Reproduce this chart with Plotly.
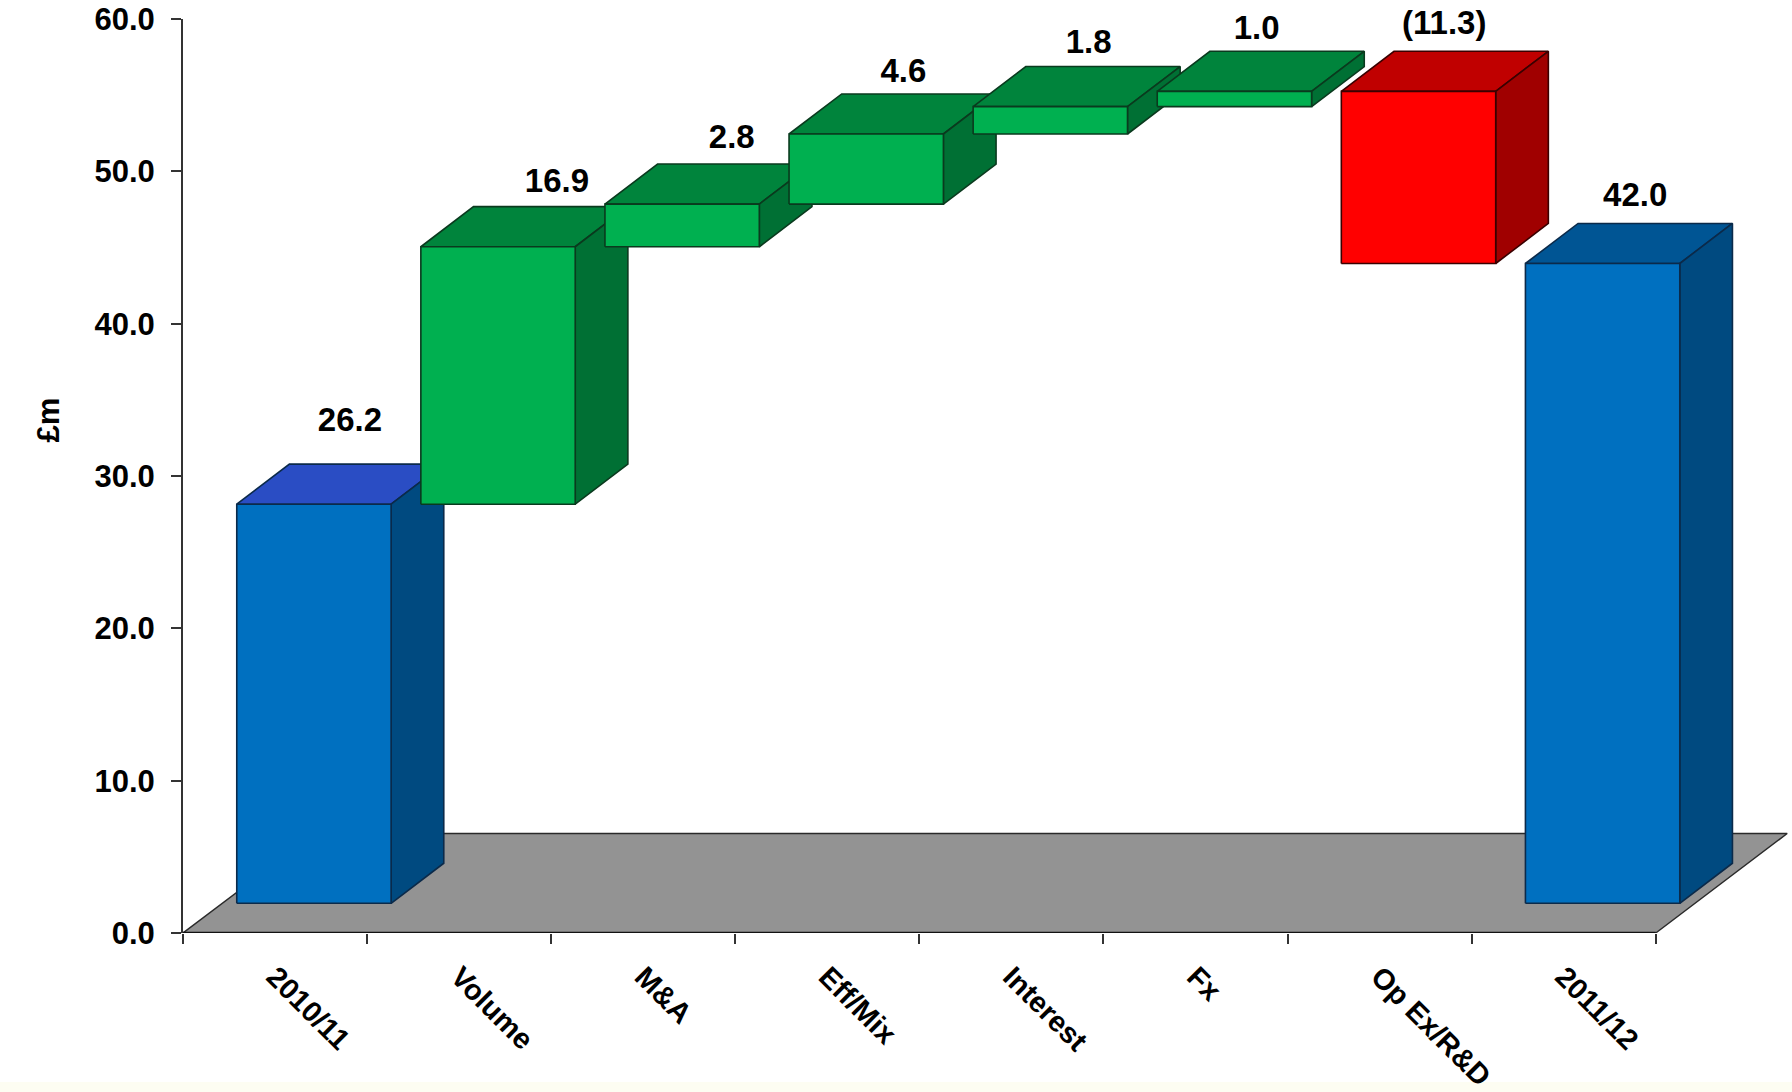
import plotly.graph_objects as go

# Bridge data, in GBP millions
categories = ["2010/11", "Volume", "M&A", "Eff/Mix", "Interest", "Fx", "Op Ex/R&D", "2011/12"]
values = [26.2, 16.9, 2.8, 4.6, 1.8, 1.0, -11.3, 42.0]
labels = ["26.2", "16.9", "2.8", "4.6", "1.8", "1.0", "(11.3)", "42.0"]
kinds = ["total", "step", "step", "step", "step", "step", "step", "total"]
y_ticks = [0, 10, 20, 30, 40, 50, 60]

# Extruded-bar geometry in axis units
FLOOR_LIFT = 1.95
BAR_OFFSET = 0.292
BAR_WIDTH = 0.8385
DEPTH_X = 0.286
DEPTH_Y = 2.63
FLOOR_DEPTH_X = 0.714
FLOOR_DEPTH_Y = 6.53

# Label placement relative to each bar's back-top edge
label_dx = [0.907, 1.031, 0.981, 0.913, 0.919, 0.832, 0.851, 0.888]
label_dy = [2.7, 1.5, 1.6, 1.35, 1.45, 1.35, 1.7, 1.7]

PALETTES = {
    "up": dict(front="#00B050", side="#007034", top="#00843C", edge="#0A3A1E"),
    "down": dict(front="#FF0000", side="#A00000", top="#C00000", edge="#3A0000"),
    "total": dict(front="#0070C0", side="#004A80", top="#005594", edge="#0B2A4A"),
}
FIRST_TOP = "#2A4DC4"
FONT = "Liberation Sans"

fig = go.Figure()


def polygon(xs, ys, fill, edge, width=1.6):
    fig.add_trace(go.Scatter(
        x=xs + xs[:1], y=ys + ys[:1], mode="lines", fill="toself", fillcolor=fill,
        line=dict(color=edge, width=width), hoverinfo="skip", showlegend=False,
    ))


# Grey floor and the heavy baseline along its front edge
polygon([0, 8, 8 + FLOOR_DEPTH_X, FLOOR_DEPTH_X], [0, 0, FLOOR_DEPTH_Y, FLOOR_DEPTH_Y],
        "#939393", "#2A2A2A", 1.4)
fig.add_trace(go.Scatter(x=[0, 8], y=[0, 0], mode="lines", cliponaxis=False,
                         line=dict(color="#111111", width=2.6),
                         hoverinfo="skip", showlegend=False))

# Walk the bridge, drawing top, side and front of each block
running = 0.0
label_x, label_y = [], []
for i, (value, kind) in enumerate(zip(values, kinds)):
    if kind == "total":
        low, high = 0.0, value
        running = value
        colors = PALETTES["total"]
    else:
        low, high = sorted((running, running + value))
        running += value
        colors = PALETTES["up" if value >= 0 else "down"]
    y0, y1 = low + FLOOR_LIFT, high + FLOOR_LIFT
    x0 = i + BAR_OFFSET
    x1 = x0 + BAR_WIDTH
    top_fill = FIRST_TOP if i == 0 else colors["top"]
    polygon([x0, x1, x1 + DEPTH_X, x0 + DEPTH_X], [y1, y1, y1 + DEPTH_Y, y1 + DEPTH_Y],
            top_fill, colors["edge"])
    polygon([x1, x1 + DEPTH_X, x1 + DEPTH_X, x1], [y0, y0 + DEPTH_Y, y1 + DEPTH_Y, y1],
            colors["side"], colors["edge"])
    polygon([x0, x1, x1, x0], [y0, y0, y1, y1], colors["front"], colors["edge"])
    label_x.append(i + label_dx[i])
    label_y.append(y1 + DEPTH_Y + label_dy[i])

fig.add_trace(go.Scatter(
    x=label_x, y=label_y, mode="text", text=labels, textposition="middle center",
    cliponaxis=False, textfont=dict(family=FONT, size=33, color="#000000", weight="bold"),
    hoverinfo="skip", showlegend=False,
))

fig.update_layout(
    width=1792, height=1092,
    margin=dict(l=183, r=0, t=19, b=159),
    paper_bgcolor="#FFFFFF", plot_bgcolor="#FFFFFF",
    showlegend=False,
    xaxis=dict(
        range=[0, 8.74], showgrid=False, zeroline=False, showline=False,
        tickmode="array", tickvals=[i + 0.5 for i in range(len(categories))],
        ticktext=categories, ticks="", tickangle=45, ticklabelstandoff=20,
        tickfont=dict(family=FONT, size=29, color="#000000", weight="bold"),
        minor=dict(tickmode="array", tickvals=list(range(len(categories) + 1)),
                   ticks="outside", ticklen=10, tickwidth=1.5, tickcolor="#333333",
                   showgrid=False),
    ),
    yaxis=dict(
        range=[0, 60], showgrid=False, zeroline=False, showline=True,
        linecolor="#333333", linewidth=2, tickmode="array", tickvals=y_ticks,
        tickformat=".1f", ticks="outside", ticklen=10, tickwidth=1.5, tickcolor="#333333",
        ticklabelstandoff=10,
        tickfont=dict(family=FONT, size=31, color="#000000", weight="bold"),
    ),
    annotations=[dict(
        text="£m", textangle=-90, xref="paper", yref="paper",
        x=-155 / 1609, y=(933 - 420) / 914, showarrow=False,
        font=dict(family=FONT, size=31, color="#000000", weight="bold"),
    )],
    shapes=[dict(type="rect", xref="paper", yref="paper", layer="below",
                 x0=-183 / 1609, x1=1, y0=-159 / 914, y1=-149 / 914,
                 fillcolor="#FDFDF2", line=dict(width=0))],
)

fig.write_html("out.html")
